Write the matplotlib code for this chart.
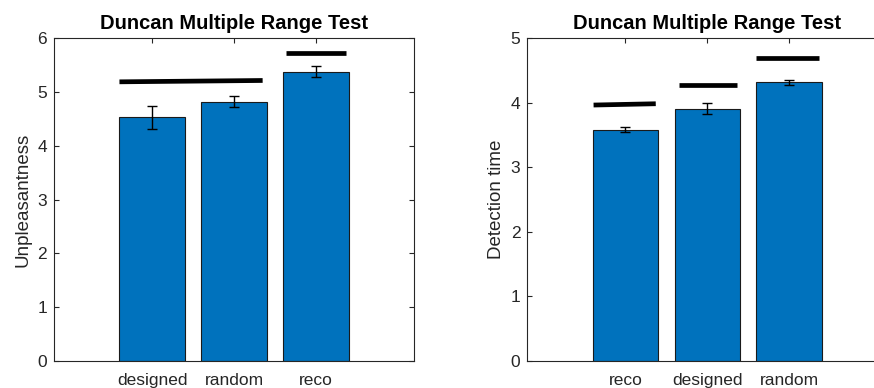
import matplotlib
matplotlib.use("Agg")
import matplotlib.pyplot as plt
import numpy as np

plt.rcParams['font.family'] = ['Liberation Sans', 'DejaVu Sans']

# Left panel data
cats_left = ["designed", "random", "reco"]
vals_left = [4.53, 4.82, 5.38]
err_left = [0.21, 0.105, 0.10]
# Duncan group lines: (x_start, x_end, y_start, y_end)
groups_left = [(0.60, 2.35, 5.19, 5.215), (2.63, 3.37, 5.72, 5.72)]

# Right panel data
cats_right = ["reco", "designed", "random"]
vals_right = [3.58, 3.91, 4.32]
err_right = [0.04, 0.085, 0.04]
groups_right = [(0.61, 1.37, 3.965, 3.985), (1.65, 2.36, 4.27, 4.27), (2.60, 3.36, 4.70, 4.70)]

BAR = '#0072BD'
AX = '#262626'

fig = plt.figure(figsize=(8.74, 3.88), dpi=100)

def panel(rect, cats, vals, errs, groups, ymax, ylabel):
    ax = fig.add_axes(rect)
    x = np.arange(1, len(cats) + 1)
    ax.bar(x, vals, width=0.8, color=BAR, edgecolor='#1a1a1a', linewidth=0.8, zorder=2)
    ax.errorbar(x, vals, yerr=errs, fmt='none', ecolor='black', elinewidth=1.0,
                capsize=3.3, capthick=1.0, zorder=3)
    for (x0, x1, y0, y1) in groups:
        ax.plot([x0, x1], [y0, y1], color='black', linewidth=3.4,
                solid_capstyle='butt', zorder=4)
    ax.set_xlim(-0.2, 4.2)
    ax.set_ylim(0, ymax)
    ax.set_xticks(x)
    ax.set_xticklabels(cats)
    ax.set_yticks(np.arange(0, ymax + 1))
    ax.tick_params(direction='in', top=True, right=True, length=3.5, width=0.8,
                   color=AX, labelcolor=AX, labelsize=12.5, pad=5)
    ax.tick_params(axis='x', pad=8.5)
    for s in ax.spines.values():
        s.set_color(AX)
        s.set_linewidth(0.8)
    ax.set_ylabel(ylabel, fontsize=13.5, color=AX, labelpad=4)
    ax.set_title("Duncan Multiple Range Test", fontsize=14.5, fontweight='bold', pad=7)
    return ax

panel([54/874, 27.3/388, 360/874, 322.4/388], cats_left, vals_left, err_left, groups_left, 6, "Unpleasantness")
panel([527.3/874, 27.3/388, 360/874, 322.4/388], cats_right, vals_right, err_right, groups_right, 5, "Detection time")

fig.savefig("out.png", dpi=100)
